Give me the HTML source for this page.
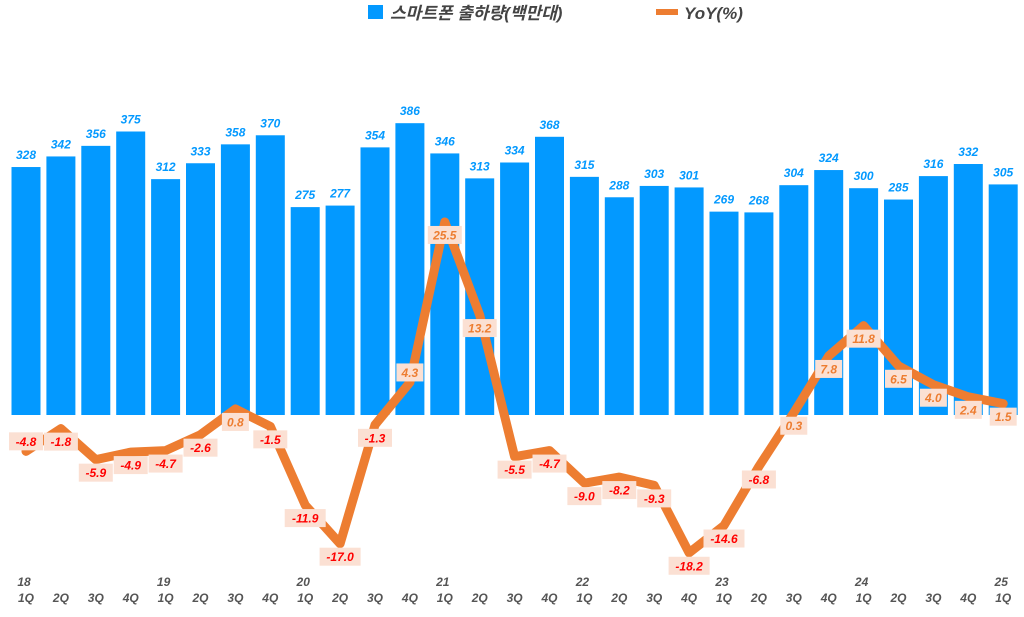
<!DOCTYPE html>
<html><head><meta charset="utf-8"><style>
body{margin:0;background:#fff;}
svg text{font-family:"Liberation Sans","Noto Sans CJK KR",sans-serif;}
</style></head><body>
<svg id="c" width="1024" height="612" xmlns="http://www.w3.org/2000/svg">
<g>
<rect x="368" y="5" width="15" height="14" fill="#0399ff"/>
<text x="390" y="19" font-size="17" font-weight="bold" font-style="italic" fill="#444">스마트폰 출하량(백만대)</text>
<line x1="656" y1="12" x2="678" y2="12" stroke="#ed7d31" stroke-width="6"/>
<text x="684" y="19" font-size="17" font-weight="bold" font-style="italic" fill="#444">YoY(%)</text>
</g>
<g id="bars"></g><g id="line"></g><g id="labels"></g><g id="axis"></g>
</svg>
<script>
const years=["18","","","","19","","","","20","","","","21","","","","22","","","","23","","","","24","","","","25"];
const quarters=["1Q","2Q","3Q","4Q","1Q","2Q","3Q","4Q","1Q","2Q","3Q","4Q","1Q","2Q","3Q","4Q","1Q","2Q","3Q","4Q","1Q","2Q","3Q","4Q","1Q","2Q","3Q","4Q","1Q"];
const shipments=[328,342,356,375,312,333,358,370,275,277,354,386,346,313,334,368,315,288,303,301,269,268,304,324,300,285,316,332,305];
const yoy=[-4.8,-1.8,-5.9,-4.9,-4.7,-2.6,0.8,-1.5,-11.9,-17.0,-1.3,4.3,25.5,13.2,-5.5,-4.7,-9.0,-8.2,-9.3,-18.2,-14.6,-6.8,0.3,7.8,11.8,6.5,4.0,2.4,1.5];
const NS="http://www.w3.org/2000/svg";
const x0=26,pitch=34.9,base=415,bw=29;
const xs=i=>x0+i*pitch;
const yb=v=>base-v*0.756;
const yl=v=>base-v*7.57;
function mk(t,a,p){const e=document.createElementNS(NS,t);for(const k in a)e.setAttribute(k,a[k]);p.appendChild(e);return e;}
const gb=document.getElementById('bars'),gl=document.getElementById('line'),gt=document.getElementById('labels'),ga=document.getElementById('axis');
shipments.forEach((v,i)=>{
 const r=mk('rect',{x:xs(i)-bw/2,y:yb(v),width:bw,height:base-yb(v),fill:'#0399ff'},gb);
 
 
 const t=mk('text',{x:xs(i),y:yb(v)-8,'font-size':12,'font-weight':'bold','font-style':'italic',fill:'#0399ff','text-anchor':'middle'},gb);
 t.textContent=v;
 
 
});
let d=yoy.map((v,i)=>(i?'L':'M')+xs(i)+','+yl(v)).join('');
const p=mk('path',{d:d,fill:'none',stroke:'#ed7d31','stroke-width':9,'stroke-linejoin':'round','stroke-linecap':'round'},gl);


yoy.forEach((v,i)=>{
 const next=i<yoy.length-1?yoy[i+1]:v;
 const above=(i==0)||(next-v>20);
 const cy=yl(v)+(above?-10:13);
 const s=v.toFixed(1);
 const w=s.length*7+6;
 const g=mk('g',{},gt);
 
 
 mk('rect',{x:xs(i)-w/2,y:cy-9,width:w,height:18,fill:'#fbe0d3'},g);
 const t=mk('text',{x:xs(i),y:cy+4.5,'font-size':12,'font-weight':'bold','font-style':'italic',fill:v<0?'#ff0000':'#ed7d31','text-anchor':'middle'},g);
 t.textContent=s;
});
quarters.forEach((q,i)=>{
 const t=mk('text',{x:xs(i),y:602,'font-size':12,'font-weight':'bold','font-style':'italic',fill:'#555','text-anchor':'middle'},ga);
 t.textContent=q;
 
 
 if(years[i]){
  const y=mk('text',{x:xs(i)-2,y:586,'font-size':12,'font-weight':'bold','font-style':'italic',fill:'#555','text-anchor':'middle'},ga);
  y.textContent=years[i];
  
  
 }
});
</script>
</body></html>
